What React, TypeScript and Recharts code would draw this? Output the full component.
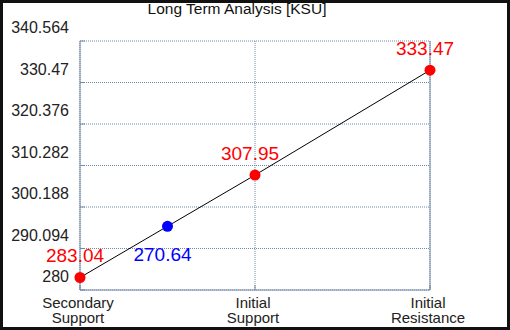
import React from "react";
import {
  LineChart,
  Line,
  XAxis,
  YAxis,
  CartesianGrid,
} from "recharts";

// price levels along the x scale (0 = secondary support, 2 = initial support, 4 = initial resistance)
const levelX = [0, 1, 2, 4];
const levelValues = [283.04, 295.5, 307.95, 333.47];
const levelLabels = ["283.04", "270.64", "307.95", "333.47"];
const levelColors = ["#ff0000", "#0000ff", "#ff0000", "#ff0000"];

const categoryPos = [0, 2, 4];
const categoryNames = [
  ["Secondary", "Support"],
  ["Initial", "Support"],
  ["Initial", "Resistance"],
];

const yTicks = [280, 290.094, 300.188, 310.282, 320.376, 330.47, 340.564];

const chartData = levelX.map((x, i) => ({
  x,
  price: levelValues[i],
}));

const axisColor = "#7389a9";
const font = "'Liberation Sans', Arial, sans-serif";

const LeftTick = (props: any) => {
  const { x, y, payload } = props;
  return (
    <text
      x={x - 16}
      y={y - 13.5}
      textAnchor="end"
      dominantBaseline="central"
      fontSize={16}
      fontFamily={font}
      fill="#222"
    >
      {payload.value}
    </text>
  );
};

const RightTick = (props: any) => {
  const { x, y, payload } = props;
  return (
    <text
      x={x + 11}
      y={y - 13.5}
      textAnchor="start"
      dominantBaseline="central"
      fontSize={16}
      fontFamily={font}
      fill="#222"
    >
      {payload.value}
    </text>
  );
};

const BottomTick = (props: any) => {
  const { x, y, payload } = props;
  const idx = categoryPos.indexOf(payload.value);
  const lines = categoryNames[idx] || [];
  return (
    <g>
      {lines.map((l, i) => (
        <text
          key={i}
          x={x - 2}
          y={y + 22.5 + i * 15}
          textAnchor="middle"
          fontSize={15}
          fontFamily={font}
          fill="#222"
        >
          {l}
        </text>
      ))}
    </g>
  );
};

const PriceDot = (props: any) => {
  const { cx, cy, index } = props;
  return <circle key={index} cx={cx} cy={cy} r={5.5} fill={levelColors[index]} />;
};

const PriceLabel = (props: any) => {
  const { x, y, index } = props;
  const below = levelColors[index] === "#0000ff";
  return (
    <text
      x={x - 5}
      y={below ? y + 28 : y - 22}
      textAnchor="middle"
      dominantBaseline="central"
      fontSize={19}
      fontFamily={font}
      fill={levelColors[index]}
    >
      {levelLabels[index]}
    </text>
  );
};

const App = () => {
  return (
    <div
      style={{
        position: "fixed",
        left: 0,
        top: 0,
        width: 510,
        height: 330,
        boxSizing: "border-box",
        border: "3px solid #111",
        background: "#fff",
      }}
    >
      <div
        style={{
          position: "absolute",
          left: 0,
          top: -3,
          width: 468,
          textAlign: "center",
          fontFamily: font,
          fontSize: 15.5,
          color: "#111",
        }}
      >
        Long Term Analysis [KSU]
      </div>
      <LineChart
        width={504}
        height={324}
        data={chartData}
        margin={{ top: 38, right: 0, bottom: 0, left: 0 }}
      >
        <CartesianGrid
          stroke={axisColor}
          strokeDasharray="1 1"
          horizontalValues={yTicks}
          verticalValues={categoryPos}
          yAxisId="left"
        />
        <XAxis
          dataKey="x"
          type="number"
          domain={[0, 4]}
          ticks={categoryPos}
          height={37}
          stroke={axisColor}
          tickSize={-5}
          tickMargin={0}
          tick={(p: any) => <BottomTick {...p} />}
          interval={0}
        />
        <YAxis
          yAxisId="left"
          type="number"
          domain={[280, 340.564]}
          ticks={yTicks}
          width={77}
          stroke={axisColor}
          tickSize={-5}
          tickMargin={0}
          tick={(p: any) => <LeftTick {...p} />}
          interval={0}
        />
        <YAxis
          yAxisId="right"
          orientation="right"
          type="number"
          domain={[280, 340.564]}
          ticks={yTicks}
          width={77}
          stroke={axisColor}
          tickSize={-5}
          tickMargin={0}
          tick={(p: any) => <RightTick {...p} />}
          interval={0}
        />
        <Line
          yAxisId="left"
          dataKey="price"
          type="linear"
          stroke="#000"
          strokeWidth={1}
          dot={(p: any) => <PriceDot {...p} />}
          label={(p: any) => <PriceLabel {...p} />}
          isAnimationActive={false}
        />
      </LineChart>
    </div>
  );
};

export default App;
